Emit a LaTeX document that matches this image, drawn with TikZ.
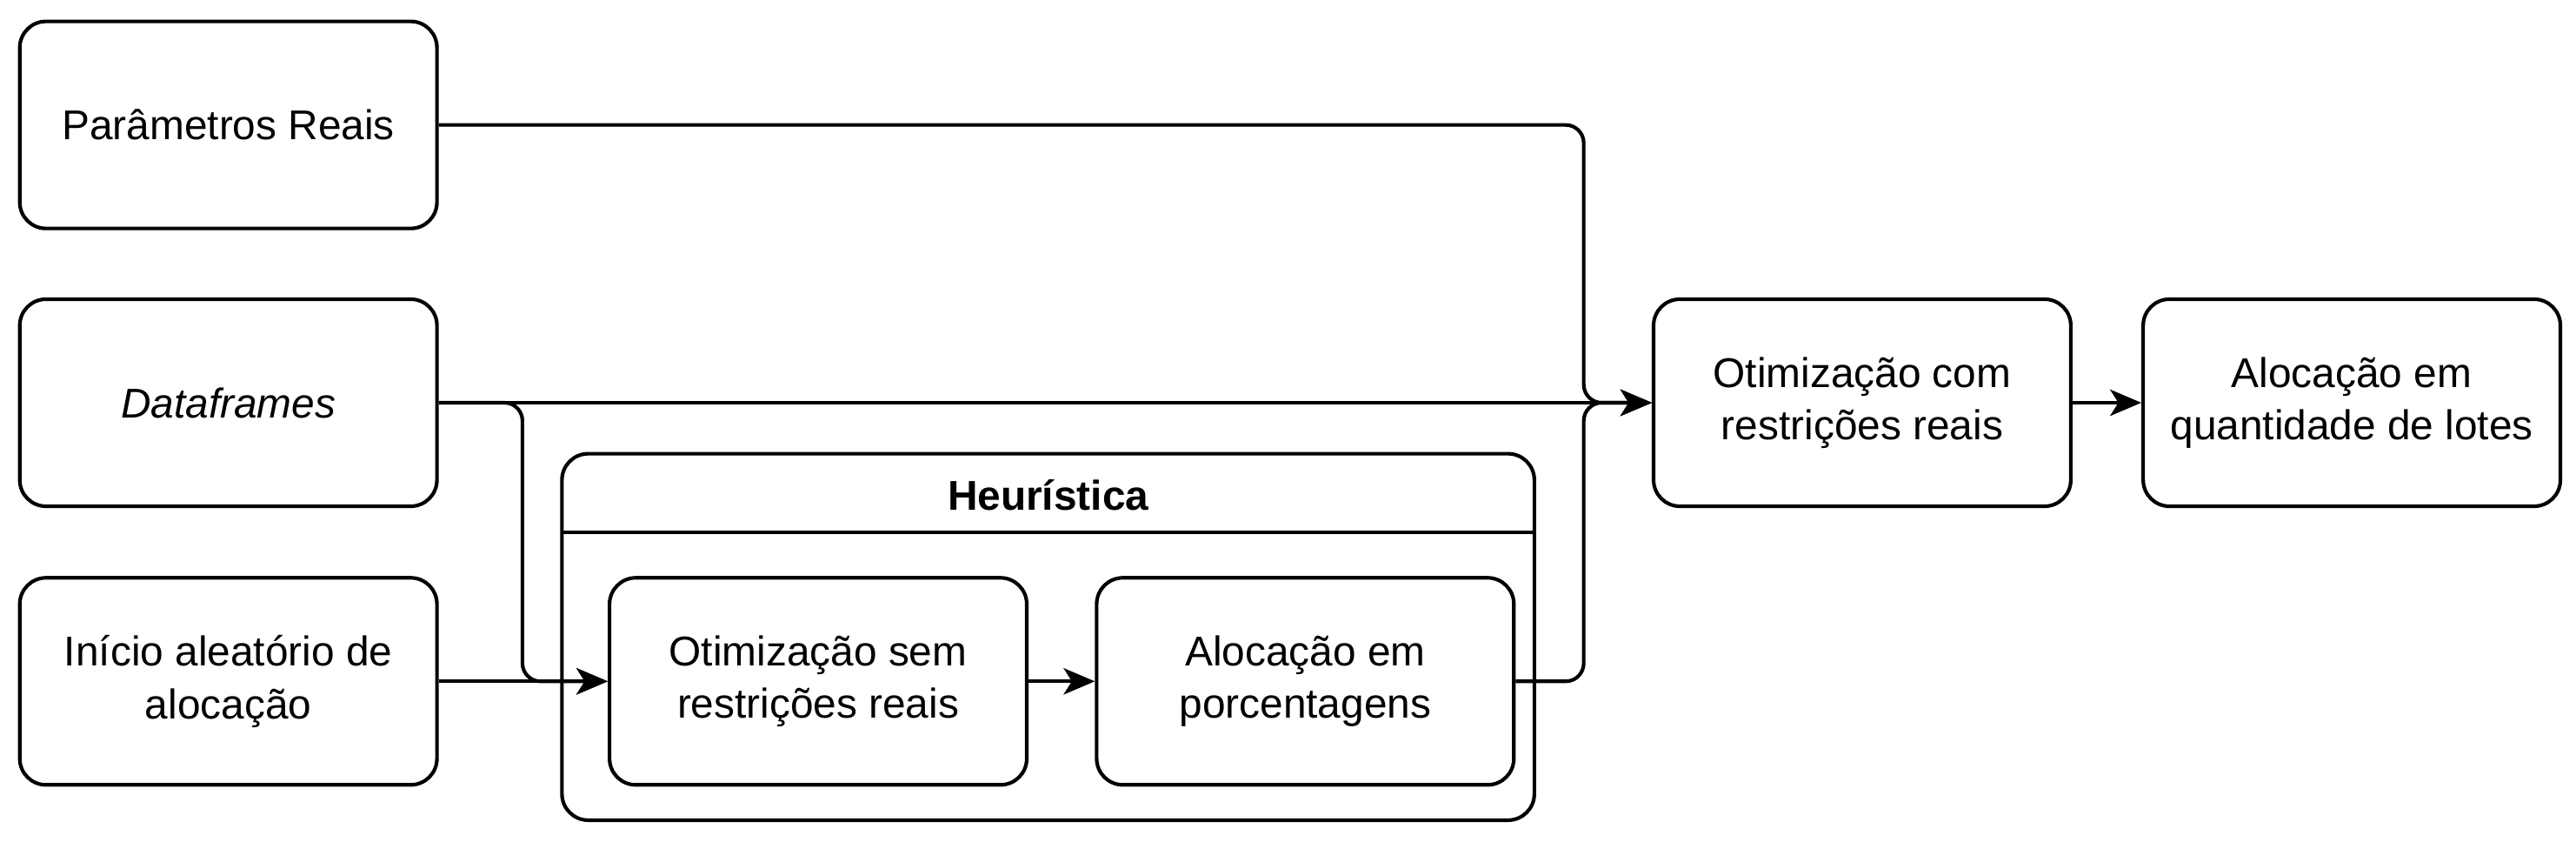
\documentclass[tikz,border=0pt]{standalone}
\usepackage{fontspec}
\setmainfont{Liberation Sans}
\usetikzlibrary{arrows.meta}
\begin{document}
\begin{tikzpicture}[x=0.02cm,y=-0.02cm,
  box/.style={draw,line width=1.25pt,rounded corners=0.32cm,minimum width=5.08cm,minimum height=2.52cm,align=center,inner sep=0pt,font=\fontsize{14.4}{18.2}\selectfont},
  cont/.style={draw,line width=1.25pt,rounded corners=0.32cm,minimum width=11.84cm,minimum height=4.46cm,inner sep=0pt},
  conn/.style={line width=1.25pt,rounded corners=0.22cm},
  arr/.style={conn,-{Stealth[length=0.38cm,width=0.32cm,inset=0.1cm]}}]
\useasboundingbox (0,0) rectangle (1568,512);
\node[box] (par) at (139,76) {Parâmetros Reais};
\node[box] (df) at (139,245) {\itshape Dataframes};
\node[box] (ini) at (139,414.5) {Início aleatório de\\alocação};
\node[cont] (heur) at (638,387.5) {};
\coordinate (hl) at (342,324);
\coordinate (hr) at (934,324);
\draw[line width=1.25pt] (hl) -- (hr);
\node[font=\fontsize{14.4}{18.2}\selectfont\bfseries] (title) at (638,301) {Heurística};
\node[box] (osr) at (498,414.5) {Otimização sem\\restrições reais};
\node[box] (ap) at (794.5,414.5) {Alocação em\\porcentagens};
\node[box] (ocr) at (1133.5,245) {Otimização com\\restrições reais};
\node[box] (aq) at (1431.5,245) {Alocação em\\quantidade de lotes};
\coordinate (bx) at (964,245);
\coordinate (by) at (318,414.5);
\draw[arr] (par.east) -| (bx) -- (ocr.west);
\draw[arr] (ap.east) -| (bx) -- (ocr.west);
\draw[arr] (df.east) -- (ocr.west);
\draw[arr] (df.east) -| (by) -- (osr.west);
\draw[arr] (ini.east) -- (osr.west);
\draw[arr] (osr.east) -- (ap.west);
\draw[arr] (ocr.east) -- (aq.west);
\end{tikzpicture}
\end{document}
